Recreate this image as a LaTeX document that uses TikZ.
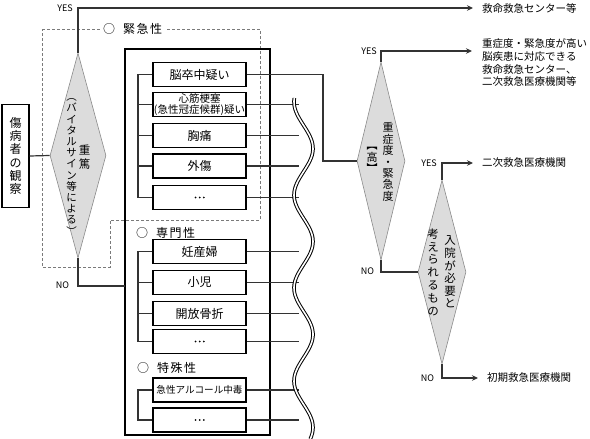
\documentclass[tikz,border=0pt]{standalone}
\usepackage{fontspec}
\setmainfont{Noto Sans CJK JP}
\newfontfamily\dotfont{Noto Sans CJK JP}[FakeBold=2]
\usetikzlibrary{shapes.geometric,arrows.meta}
\definecolor{diafill}{HTML}{DCDCDC}
\definecolor{diaedge}{HTML}{8A8A8A}
\definecolor{linegray}{HTML}{333333}
\definecolor{dashgray}{HTML}{7A7A7A}
\tikzset{
  itembox/.style={draw, line width=1.4pt, minimum width=93pt, minimum height=24pt, inner sep=0pt, align=center, font=\fontsize{12}{13}\selectfont},
  obsbox/.style={draw, line width=1.4pt, minimum width=27pt, minimum height=103pt, inner sep=0pt, align=center, font=\fontsize{12}{13.2}\selectfont},
  dia/.style={diamond, draw=diaedge, fill=diafill, line width=0.6pt, inner sep=0pt},
  vcol/.style={align=center, inner sep=0pt, font=\fontsize{11}{11.4}\selectfont},
  conn/.style={draw=linegray, line width=1.2pt},
  arr/.style={-{Stealth[length=6pt,width=5.5pt]}},
  lbl/.style={anchor=west, inner sep=0pt, font=\fontsize{10.5}{12.8}\selectfont},
  yn/.style={inner sep=0pt, font=\fontsize{9}{10}\selectfont},
  seclabel/.style={anchor=west, inner sep=0pt, font=\fontsize{12}{13}\selectfont},
  dashreg/.style={draw=dashgray, line width=0.8pt, dash pattern=on 3pt off 2pt},
  wave/.style={draw=black, line width=1pt, double=white, double distance=1.6pt}
}
\begin{document}
\begin{tikzpicture}[x=1pt,y=-1pt]
\useasboundingbox (0,0) rectangle (590,439);

% dashed region (緊急性)
\draw[dashreg] (42,29) -- (260,29) -- (260,220) -- (110,220) -- (110,267) -- (42,267) -- cycle;
\node[seclabel, fill=white, inner xsep=3pt] (s1) at (100,29) {○\hspace{8pt}緊\kern1.5pt 急\kern1.5pt 性};
\node[seclabel] (s2) at (136,233) {○\hspace{8pt}専\kern1.5pt 門\kern1.5pt 性};
\node[seclabel] (s3) at (137,368) {○\hspace{8pt}特\kern1.5pt 殊\kern1.5pt 性};

% big box
\node[draw, line width=1.2pt, minimum width=145pt, minimum height=386pt, inner sep=0pt] (bigbox) at (197.5,242) {};

% observer
\node[obsbox] (obs) at (15.5,156) {傷\\病\\者\\の\\観\\察};

% diamonds
\node[dia, minimum width=56pt, minimum height=205pt] (d1) at (78,155.5) {};
\node[dia, minimum width=48pt, minimum height=198pt] (d2) at (381,161) {};
\node[dia, minimum width=48pt, minimum height=184pt] (d3) at (442,272) {};

\node[vcol, font=\fontsize{11.5}{14}\selectfont] (d1a) at (84.5,157) {重\\篤};
\node[vcol, font=\fontsize{10.5}{11.2}\selectfont] (d1b) at (71.5,167) {︵\\バ\\イ\\タ\\ル\\サ\\イ\\ン\\等\\に\\よ\\る\\︶};
\node[vcol] (d2a) at (388,162) {重\\症\\度\\・\\緊\\急\\度};
\node[vcol] (d2b) at (372,160) {︻\\高\\︼};
\node[vcol, font=\fontsize{11.5}{12.6}\selectfont] (d3a) at (450,272) {入\\院\\が\\必\\要\\と};
\node[vcol, font=\fontsize{11.5}{12.8}\selectfont] (d3b) at (433,272) {考\\え\\ら\\れ\\る\\も\\の};

% item boxes
\node[itembox] (b1) at (199.5,74.5) {脳卒中疑い};
\node[itembox, font=\fontsize{10.5}{11}\selectfont] (b2) at (199.5,104.5) {心筋梗塞\\(急性冠症候群)疑い};
\node[itembox] (b3) at (199.5,135.5) {胸痛};
\node[itembox] (b4) at (199.5,166) {外傷};
\node[itembox, font=\dotfont\fontsize{11}{12}\selectfont] (b5) at (199.5,197.5) {…};
\node[itembox] (b6) at (199.5,251.5) {妊産婦};
\node[itembox] (b7) at (199.5,282.5) {小児};
\node[itembox] (b8) at (199.5,313.5) {開放骨折};
\node[itembox, font=\dotfont\fontsize{11}{12}\selectfont] (b9) at (199.5,341.5) {…};
\node[itembox, font=\fontsize{9.6}{11}\selectfont] (b10) at (199.5,390) {急性アルコール中毒};
\node[itembox, font=\dotfont\fontsize{11}{12}\selectfont] (b11) at (199.5,420) {…};

% helper coordinates
\coordinate (lx) at (138,0);
\coordinate (rx) at (299,0);
\coordinate (tx) at (323,0);

% left brackets
\draw[conn] (b1.west) -- (b1.west -| lx) -- (b5.west -| lx) -- (b5.west);
\foreach \b in {b2,b3,b4} \draw[conn] (\b.west) -- (\b.west -| lx);
\draw[conn] (b6.west) -- (b6.west -| lx) -- (b9.west -| lx) -- (b9.west);
\foreach \b in {b7,b8} \draw[conn] (\b.west) -- (\b.west -| lx);
\draw[conn] (b10.west) -- (b10.west -| lx) -- (b11.west -| lx) -- (b11.west);

% right lines
\foreach \b in {b2,b3,b4,b5,b6,b7,b8,b9,b10,b11} \draw[conn] (\b.east) -- (\b.east -| rx);
\draw[conn] (b1.east) -- (b1.east -| tx) |- (d2.west);

% wave
\draw[wave] plot[domain=98:439, samples=120, smooth] ({303.5-9.5*cos(3.871*(\x-102))},\x);

% observer to d1
\draw[conn] (obs.east) -- (d1.west);

% right labels
\node[lbl] (t1) at (482,8) {救命救急センター等};
\node[lbl, anchor=north west, align=left] (t2) at (482,38.5) {重症度・緊急度が高い\\脳疾患に対応できる\\救命救急センター、\\二次救急医療機関等};
\node[lbl] (t3) at (482,163) {二次救急医療機関};
\node[lbl] (t4) at (487,378) {初期救急医療機関};

\coordinate (a1) at (473,8);
\coordinate (a2) at (472,51);
\coordinate (a3) at (473,163);
\coordinate (a4) at (478,378);
\coordinate (n1) at (125,286);

\draw[conn, arr] (d1.north) |- (a1);
\draw[conn] (d1.south) |- (n1);
\draw[conn, arr] (d2.north) |- (a2);
\draw[conn] (d2.south) |- (d3.west);
\draw[conn, arr] (d3.north) |- (a3);
\draw[conn, arr] (d3.south) |- (a4);

% YES / NO
\node[yn] (y1) at (65,8) {YES};
\node[yn] (no1) at (62.5,285) {NO};
\node[yn] (y2) at (369,51) {YES};
\node[yn] (no2) at (367.5,271.5) {NO};
\node[yn] (y3) at (429,163) {YES};
\node[yn] (no3) at (427.5,378) {NO};
\end{tikzpicture}
\end{document}
